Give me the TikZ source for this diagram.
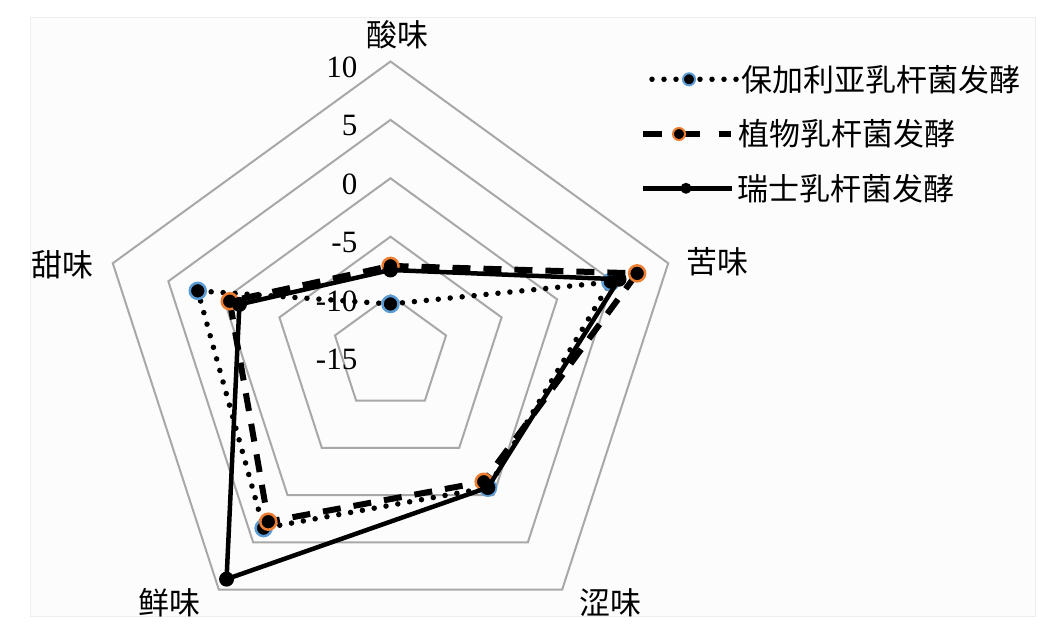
\documentclass[tikz,border=0pt]{standalone}
\usepackage{fontspec}
\setmainfont{Liberation Serif}
\newfontfamily\cjk{Noto Sans CJK SC}
\definecolor{blueS}{HTML}{5B9BD5}
\definecolor{orangeS}{HTML}{ED7D31}
\definecolor{ringgray}{HTML}{A8A8A8}
\definecolor{areabg}{HTML}{FCFCFC}
\definecolor{areaborder}{HTML}{EEEEEE}
\tikzset{
  ring/.style={draw=ringgray, line width=2bp, line join=miter},
  axlab/.style={font=\cjk\fontsize{31bp}{31bp}\selectfont, inner sep=0pt, anchor=center},
  numlab/.style={font=\fontsize{31bp}{31bp}\selectfont, inner sep=0pt, anchor=east},
  leglab/.style={font=\cjk\fontsize{31bp}{31bp}\selectfont, inner sep=0pt, anchor=west},
  serA/.style={draw=black, line width=5.5bp, line cap=round, dash pattern=on 0bp off 12bp},
  serB/.style={draw=black, line width=6bp, dash pattern=on 18bp off 13bp},
  serC/.style={draw=black, line width=4.5bp, line join=round},
  mkA/.style={circle, fill=black, draw=blueS, line width=2.5bp, minimum size=16bp, inner sep=0pt},
  mkB/.style={circle, fill=black, draw=orangeS, line width=2.5bp, minimum size=16bp, inner sep=0pt},
  mkC/.style={circle, fill=black, minimum size=15bp, inner sep=0pt},
  lmkA/.style={circle, fill=black, draw=blueS, line width=2bp, minimum size=12bp, inner sep=0pt},
  lmkB/.style={circle, fill=black, draw=orangeS, line width=2bp, minimum size=12bp, inner sep=0pt},
  lmkC/.style={circle, fill=black, minimum size=11bp, inner sep=0pt},
}
\begin{document}
\begin{tikzpicture}[x=1bp, y=1bp]
\useasboundingbox (0,0) rectangle (1055,633);
\fill[white] (0,0) rectangle (1055,633);
\draw[fill=areabg, draw=areaborder, line width=1bp] (30,16) rectangle (1035,615);

\begin{scope}[shift={(390.5,279.5)}]
  % rings: 10, 5, 0, -5, -10 (centre = -15), 11.68 per unit
  \foreach \r in {292,233.6,175.2,116.8,58.4}
    \draw[ring] (90:\r) -- (162:\r) -- (234:\r) -- (306:\r) -- (18:\r) -- cycle;

  % scale labels
  \node[numlab] (v10) at (-33,286) {10};
  \node[numlab] (v5) at (-33,227.6) {5};
  \node[numlab] (v0) at (-33,169.2) {0};
  \node[numlab] (vm5) at (-33,110.8) {-5};
  \node[numlab] (vm10) at (-33,52.4) {-10};
  \node[numlab] (vm15) at (-33,-6) {-15};

  % axis labels
  \node[axlab] (sour) at (7,318.5) {酸味};
  \node[axlab] (bitter) at (327,91.5) {苦味};
  \node[axlab] (astr) at (219.5,-249.5) {涩味};
  \node[axlab] (umami) at (-221.5,-249.5) {鲜味};
  \node[axlab] (sweet) at (-328.5,88.5) {甜味};

  % series A (blue, dotted)
  \coordinate (pAa) at (90:{(-10.76+15)*11.68});
  \coordinate (pAb) at (18:{(4.8+15)*11.68});
  \coordinate (pAc) at (306:{(-0.8+15)*11.68});
  \coordinate (pAd) at (234:{(3.48+15)*11.68});
  \coordinate (pAe) at (162:{(2.35+15)*11.68});
  \draw[serA] (pAa) -- (pAb) -- (pAc) -- (pAd) -- (pAe) -- cycle;
  \foreach \p in {a,b,c,d,e} \node[mkA] (nA\p) at (pA\p) {};

  % series B (orange, dashed)
  \coordinate (pBa) at (90:{(-7.5+15)*11.68});
  \coordinate (pBb) at (18:{(7.2+15)*11.68});
  \coordinate (pBc) at (306:{(-1.42+15)*11.68});
  \coordinate (pBd) at (234:{(2.8+15)*11.68});
  \coordinate (pBe) at (162:{(-0.53+15)*11.68});
  \draw[serB] (pBa) -- (pBb) -- (pBc) -- (pBd) -- (pBe) -- cycle;
  \foreach \p in {a,b,c,d,e} \node[mkB] (nB\p) at (pB\p) {};

  % series C (black, solid)
  \coordinate (pCa) at (90:{(-7.85+15)*11.68});
  \coordinate (pCb) at (18:{(5.57+15)*11.68});
  \coordinate (pCc) at (306:{(-0.82+15)*11.68});
  \coordinate (pCd) at (234:{(8.88+15)*11.68});
  \coordinate (pCe) at (162:{(-1.4+15)*11.68});
  \draw[serC] (pCa) -- (pCb) -- (pCc) -- (pCd) -- (pCe) -- cycle;
  \foreach \p in {a,b,c,d,e} \node[mkC] (nC\p) at (pC\p) {};
\end{scope}

% legend
\coordinate (lA1) at (652,553.7);
\coordinate (lA2) at (738,553.7);
\draw[serA] (lA1) -- (lA2);
\node[lmkA] (lmA) at (689,553.7) {};
\node[leglab] (ltA) at (741,553.7) {保加利亚乳杆菌发酵};

\coordinate (lB1) at (643,499);
\coordinate (lB2) at (731,499);
\draw[serB, dash pattern=on 19bp off 19bp] (lB1) -- (lB2);
\node[lmkB] (lmB) at (679,499) {};
\node[leglab] (ltB) at (738,499) {植物乳杆菌发酵};

\coordinate (lC1) at (643,444.7);
\coordinate (lC2) at (732,444.7);
\draw[serC] (lC1) -- (lC2);
\node[lmkC] (lmC) at (686,444.7) {};
\node[leglab] (ltC) at (737,444.7) {瑞士乳杆菌发酵};
\end{tikzpicture}
\end{document}
